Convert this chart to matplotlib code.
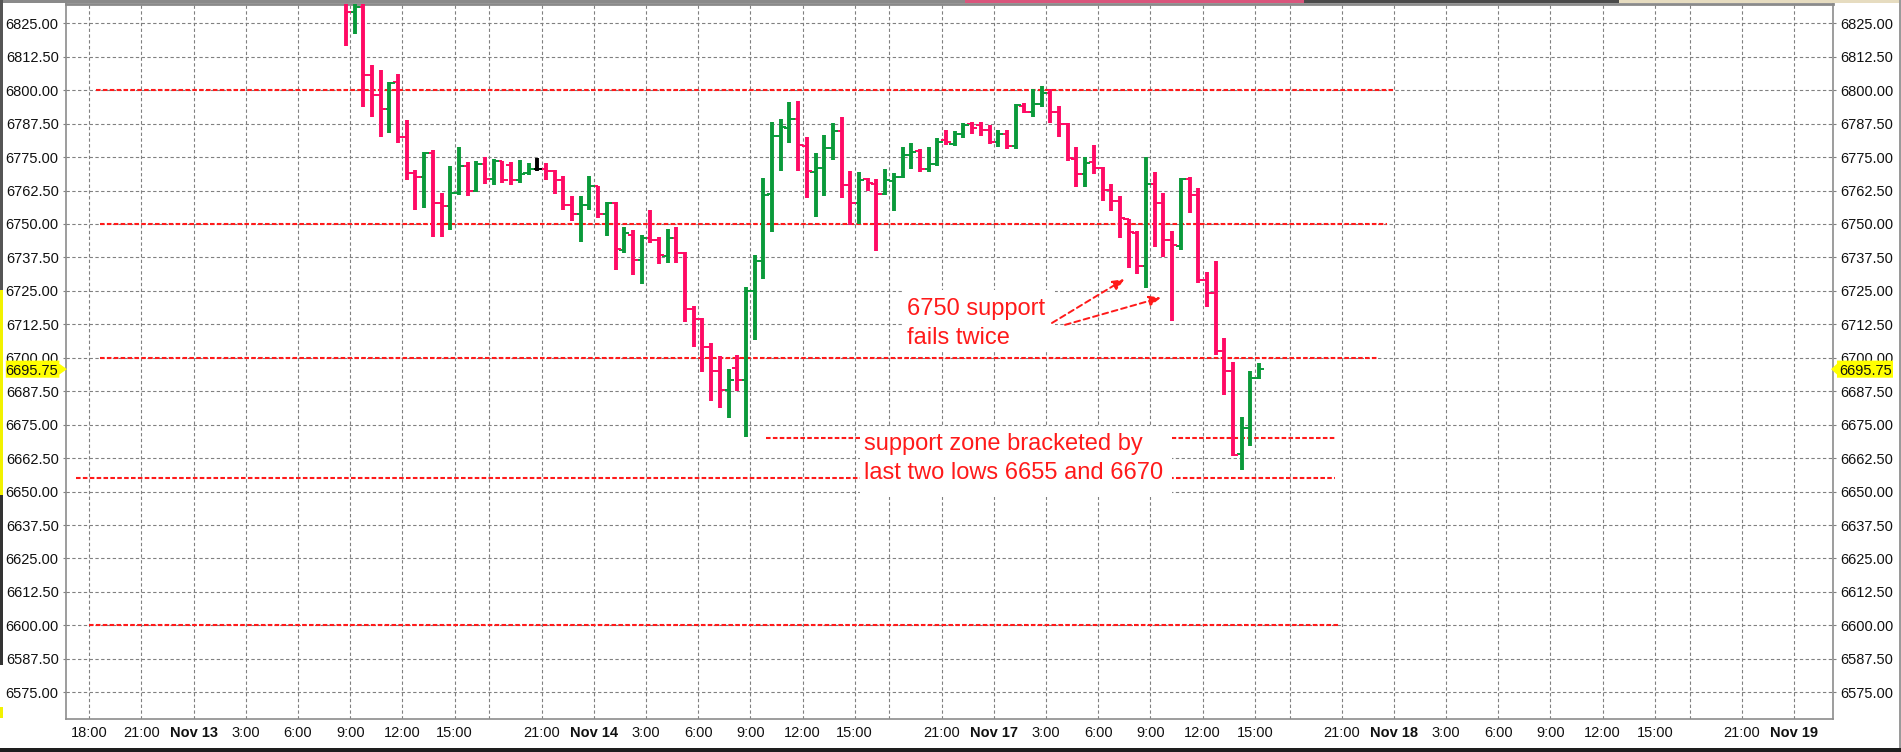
import matplotlib
matplotlib.use("Agg")
import matplotlib.pyplot as plt
import numpy as np
from matplotlib.patches import Rectangle, Polygon
from matplotlib import transforms

plt.rcParams['font.family'] = ['Liberation Sans', 'DejaVu Sans']

# ---------------- data (30-minute OHLC bars, x axis = trading hours with breaks compressed) -------------
first_bar_hour = 14.75      # Nov 13, 08:45 on the compressed session-hour axis
bar_step_hours = 0.5

opens = [6838.0, 6829.4, 6831.0, 6805.8, 6798.2, 6792.8, 6803.0, 6782.4, 6769.1, 6767.6,
         6776.4, 6758.0, 6756.7, 6761.7, 6771.6, 6762.5, 6772.6, 6766.8, 6773.4, 6772.0,
         6766.3, 6769.0, 6770.7, 6770.7, 6769.9, 6766.3, 6757.0, 6753.7, 6757.0, 6764.1,
         6753.9, 6757.8, 6740.2, 6746.0, 6736.7, 6744.9, 6744.0, 6738.1, 6744.7, 6739.3,
         6718.2, 6714.4, 6703.9, 6694.9, 6688.0, 6696.0, 6691.8, 6724.9, 6736.1, 6761.1,
         6782.8, 6785.7, 6789.4, 6779.2, 6769.5, 6771.1, 6778.5, 6784.8, 6764.6, 6758.0,
         6766.7, 6764.8, 6761.2, 6766.2, 6767.7, 6775.7, 6777.4, 6770.6, 6772.3, 6781.2,
         6779.9, 6783.6, 6787.2, 6787.0, 6785.3, 6780.7, 6783.6, 6779.1, 6794.2, 6791.9,
         6795.0, 6799.1, 6791.9, 6787.3, 6774.4, 6768.5, 6773.3, 6771.1, 6762.7, 6758.7,
         6751.9, 6746.8, 6734.3, 6764.8, 6758.0, 6744.0, 6741.9, 6766.8, 6760.8, 6729.1,
         6724.1, 6702.4, 6694.9, 6664.0, 6673.8, 6692.4]
highs = [6840.0, 6834.0, 6835.0, 6809.4, 6807.5, 6803.1, 6806.0, 6788.8, 6770.1, 6776.9,
         6777.6, 6761.5, 6771.6, 6778.9, 6773.0, 6773.4, 6775.0, 6774.3, 6773.5, 6773.3,
         6774.0, 6772.8, 6774.8, 6772.7, 6770.3, 6768.1, 6760.6, 6760.6, 6768.1, 6764.3,
         6758.3, 6758.3, 6748.8, 6747.9, 6746.0, 6755.1, 6745.3, 6748.3, 6748.8, 6739.5,
         6719.4, 6715.0, 6705.7, 6700.6, 6695.8, 6701.0, 6726.6, 6738.3, 6767.0, 6788.1,
         6789.1, 6795.5, 6795.9, 6782.6, 6776.6, 6783.2, 6787.8, 6790.0, 6769.8, 6769.4,
         6767.0, 6766.8, 6770.5, 6768.9, 6778.6, 6780.1, 6778.2, 6778.6, 6782.0, 6785.1,
         6784.7, 6787.8, 6788.1, 6788.2, 6786.9, 6785.3, 6785.1, 6795.0, 6795.3, 6800.6,
         6801.5, 6800.6, 6794.0, 6787.6, 6778.6, 6774.9, 6779.5, 6771.4, 6764.9, 6760.5,
         6752.0, 6747.4, 6774.9, 6769.5, 6761.4, 6747.4, 6767.3, 6767.4, 6763.6, 6732.0,
         6736.2, 6707.5, 6698.6, 6677.7, 6694.9, 6698.0]
lows = [6816.6, 6820.9, 6793.8, 6790.1, 6782.6, 6784.1, 6780.4, 6766.4, 6755.2, 6756.0,
        6745.2, 6745.2, 6747.9, 6761.0, 6760.5, 6762.0, 6765.0, 6764.4, 6765.3, 6764.4,
        6765.3, 6768.3, 6769.7, 6766.3, 6761.1, 6755.4, 6751.0, 6743.2, 6755.1, 6752.1,
        6745.4, 6732.7, 6739.2, 6731.1, 6727.7, 6743.0, 6735.2, 6735.6, 6735.6, 6713.2,
        6703.9, 6694.8, 6684.0, 6681.1, 6677.4, 6687.7, 6670.3, 6706.7, 6729.4, 6747.0,
        6769.8, 6780.3, 6769.8, 6759.6, 6752.7, 6760.6, 6774.0, 6759.8, 6749.5, 6750.0,
        6762.3, 6740.0, 6760.8, 6755.0, 6767.0, 6770.6, 6769.5, 6769.5, 6771.8, 6779.7,
        6779.1, 6782.3, 6783.6, 6782.8, 6779.9, 6778.9, 6777.9, 6778.2, 6791.3, 6789.8,
        6793.8, 6787.9, 6782.6, 6773.5, 6763.7, 6763.7, 6768.5, 6758.7, 6755.0, 6744.6,
        6733.7, 6731.2, 6725.9, 6741.5, 6737.8, 6713.9, 6740.1, 6754.0, 6728.1, 6718.8,
        6701.1, 6685.9, 6663.2, 6658.0, 6666.9, 6692.0]
closes = [6829.4, 6831.0, 6805.8, 6798.2, 6792.8, 6802.5, 6782.4, 6769.1, 6767.6, 6776.4,
          6758.0, 6756.7, 6761.7, 6771.6, 6762.5, 6772.6, 6766.8, 6773.4, 6766.6, 6766.3,
          6768.7, 6770.7, 6770.7, 6769.9, 6766.3, 6757.0, 6753.7, 6757.0, 6764.1, 6753.6,
          6757.8, 6740.8, 6746.6, 6736.7, 6744.8, 6744.0, 6738.4, 6744.7, 6739.3, 6718.2,
          6714.4, 6703.9, 6694.9, 6688.0, 6691.7, 6691.8, 6724.9, 6736.1, 6760.7, 6782.8,
          6786.2, 6789.4, 6779.4, 6769.9, 6770.8, 6778.5, 6784.8, 6764.6, 6758.0, 6766.4,
          6765.2, 6761.2, 6766.4, 6767.7, 6775.7, 6777.0, 6770.6, 6772.3, 6780.7, 6780.5,
          6783.6, 6786.9, 6785.7, 6785.1, 6780.5, 6783.6, 6779.1, 6794.4, 6791.9, 6795.0,
          6799.1, 6791.9, 6787.3, 6774.5, 6768.5, 6772.9, 6771.1, 6762.7, 6758.7, 6752.1,
          6747.0, 6734.3, 6764.8, 6758.0, 6744.0, 6742.0, 6766.8, 6760.8, 6729.1, 6724.1,
          6702.4, 6694.9, 6663.8, 6673.8, 6692.4, 6695.75]

last_price = 6695.75

y_ticks = [6575.0, 6587.5, 6600.0, 6612.5, 6625.0, 6637.5, 6650.0, 6662.5, 6675.0,
           6687.5, 6700.0, 6712.5, 6725.0, 6737.5, 6750.0, 6762.5, 6775.0, 6787.5,
           6800.0, 6812.5, 6825.0]

x_tick_hours = [0, 3, 6, 9, 12, 15, 18, 21, 23, 26, 29, 32, 35, 38, 41, 44, 46, 49, 52, 55,
                58, 61, 64, 67, 69, 72, 75, 78, 81, 84, 87, 90, 92, 95, 98]
x_tick_labels = ['18:00', '21:00', 'Nov 13', '3:00', '6:00', '9:00', '12:00', '15:00', '',
                 '21:00', 'Nov 14', '3:00', '6:00', '9:00', '12:00', '15:00', '',
                 '21:00', 'Nov 17', '3:00', '6:00', '9:00', '12:00', '15:00', '',
                 '21:00', 'Nov 18', '3:00', '6:00', '9:00', '12:00', '15:00', '',
                 '21:00', 'Nov 19']

# drawn support / resistance levels: (price, start hour, end hour)
level_prices = [6800.0, 6750.0, 6700.0, 6670.0, 6655.0, 6600.0]
level_starts = [0.39, 0.64, 0.64, 38.9, -0.77, 0.0]
level_ends = [75.0, 74.6, 74.1, 71.6, 71.6, 71.9]

note1_lines = ['6750 support', 'fails twice']
note2_lines = ['support zone bracketed by', 'last two lows 6655 and 6670']

# ---------------- styling ----------------
UP = '#0a9a3a'
DOWN = '#ff0a64'
FLAT = '#000000'
RED = '#ff1a1a'
GRID = '#808080'
SPINE = '#8c8c8c'
LABEL_SIZE = 10.5

W, H = 1901, 752
fig = plt.figure(figsize=(W / 100, H / 100), dpi=100)
fig.patch.set_facecolor('white')
ax = fig.add_axes([65.6 / W, 1 - 719 / H, (1833 - 65.6) / W, (719 - 4) / H])
ax.set_facecolor('white')
ax.set_xlim(-1.362, 100.24)
ax.set_ylim(6565.0, 6832.21)

# grid
ax.set_yticks(y_ticks)
ax.set_yticklabels(['%.2f' % v for v in y_ticks])
ax.set_xticks(x_tick_hours)
ax.set_xticklabels(x_tick_labels)
for lab in ax.get_xticklabels():
    if lab.get_text().startswith('Nov'):
        lab.set_fontweight('bold')
ax.grid(True, color=GRID, lw=0.8, ls=(0, (3, 2.2)), zorder=1)
ax.set_axisbelow(True)

ax.tick_params(axis='y', which='both', left=True, right=True, labelleft=True, labelright=True,
               length=2.5, width=0.8, color=GRID, pad=2.5, labelsize=LABEL_SIZE,
               labelcolor='#111111')
ax.tick_params(axis='x', length=0, pad=5, labelsize=LABEL_SIZE, labelcolor='#111111')

for s in ['left', 'right', 'bottom']:
    ax.spines[s].set_color(SPINE)
    ax.spines[s].set_linewidth(1.2)
ax.spines['top'].set_color('#8a8a8a')
ax.spines['top'].set_linewidth(2)

# support / resistance levels
for p, xs, xe in zip(level_prices, level_starts, level_ends):
    ax.hlines(p, xs, xe, colors=RED, lw=1.5, linestyles=(0, (2.2, 1.1)), zorder=2)

# white label boxes (hide grid + levels)
ax.add_patch(Rectangle((46.83, 6702.2), 55.49 - 46.83, 6725.3 - 6702.2,
                       facecolor='white', edgecolor='none', zorder=3))
ax.add_patch(Rectangle((44.3, 6648.0), 62.24 - 44.3, 6674.1 - 6648.0,
                       facecolor='white', edgecolor='none', zorder=3))

# OHLC bars
o = np.array(opens); h = np.array(highs); l = np.array(lows); c = np.array(closes)
xb = first_bar_hour + bar_step_hours * np.arange(len(o))
cols = np.where(c > o, UP, np.where(c < o, DOWN, FLAT))
ax.vlines(xb, l, h, colors=cols, lw=2.8, zorder=4)
tick = 0.3
ax.hlines(o, xb - tick, xb, colors=cols, lw=1.4, zorder=4)
ax.hlines(c, xb, xb + tick, colors=cols, lw=1.4, zorder=4)

# annotations
ax.text(46.99, 6716.0, note1_lines[0], color=RED, fontsize=17, ha='left', va='baseline', zorder=6)
ax.text(46.99, 6705.2, note1_lines[1], color=RED, fontsize=17, ha='left', va='baseline', zorder=6)
ax.text(44.53, 6665.5, note2_lines[0], color=RED, fontsize=17, ha='left', va='baseline', zorder=6)
ax.text(44.53, 6654.6, note2_lines[1], color=RED, fontsize=17, ha='left', va='baseline', zorder=6)

arrow_kw = dict(arrowstyle='-|>,head_length=0.7,head_width=0.3', color=RED, lw=1.4,
                linestyle=(0, (3, 2)), shrinkA=0, shrinkB=0)
ax.annotate('', xy=(59.51, 6729.4), xytext=(55.34, 6713.0), arrowprops=arrow_kw, zorder=6)
ax.annotate('', xy=(61.61, 6722.5), xytext=(56.09, 6712.3), arrowprops=arrow_kw, zorder=6)

# last-price yellow flags on both scales
bt = transforms.blended_transform_factory(fig.transFigure, ax.transData)
hh, tt = 3.2, 2.0
p = last_price
x0, x1, xt = 5.8 / W, 59.4 / W, 67.0 / W
fig.patches.append(Polygon([(x0, p - hh), (x1, p - hh), (x1, p - tt), (xt, p), (x1, p + tt),
                            (x1, p + hh), (x0, p + hh)], closed=True, transform=bt,
                           facecolor='#ffff00', edgecolor='none', zorder=5))
fig.text(58.0 / W, p, '%.2f' % p, transform=bt, ha='right', va='center_baseline',
         fontsize=LABEL_SIZE, color='#111111', zorder=6)
x0, x1, xt = 1893.0 / W, 1837.0 / W, 1831.0 / W
fig.patches.append(Polygon([(x0, p - hh), (x1, p - hh), (x1, p - tt), (xt, p), (x1, p + tt),
                            (x1, p + hh), (x0, p + hh)], closed=True, transform=bt,
                           facecolor='#ffff00', edgecolor='none', zorder=5))
fig.text(1839.0 / W, p, '%.2f' % p, transform=bt, ha='left', va='center_baseline',
         fontsize=LABEL_SIZE, color='#111111', zorder=6)

# window chrome strips
def px_rect(xa, ya, xb_, yb, color):
    fig.patches.append(Rectangle((xa / W, 1 - yb / H), (xb_ - xa) / W, (yb - ya) / H,
                                 transform=fig.transFigure, facecolor=color,
                                 edgecolor='none', zorder=7))

px_rect(0, 0, 965, 3, '#8a8a8a')
px_rect(965, 0, 1304, 3, '#d9557c')
px_rect(1304, 0, 1619, 3, '#4a4a4a')
px_rect(1619, 0, 1901, 3, '#e6dcc0')
px_rect(0, 748, 1901, 752, '#1e1e1e')
px_rect(0, 0, 3, 290, '#555555')
px_rect(0, 290, 3, 495, '#f2f200')
px_rect(0, 495, 3, 665, '#333333')
px_rect(0, 707, 3, 718, '#f2f200')
px_rect(1899, 0, 1901, 748, '#9a9a9a')

fig.savefig('out.png', dpi=100, facecolor='white')
